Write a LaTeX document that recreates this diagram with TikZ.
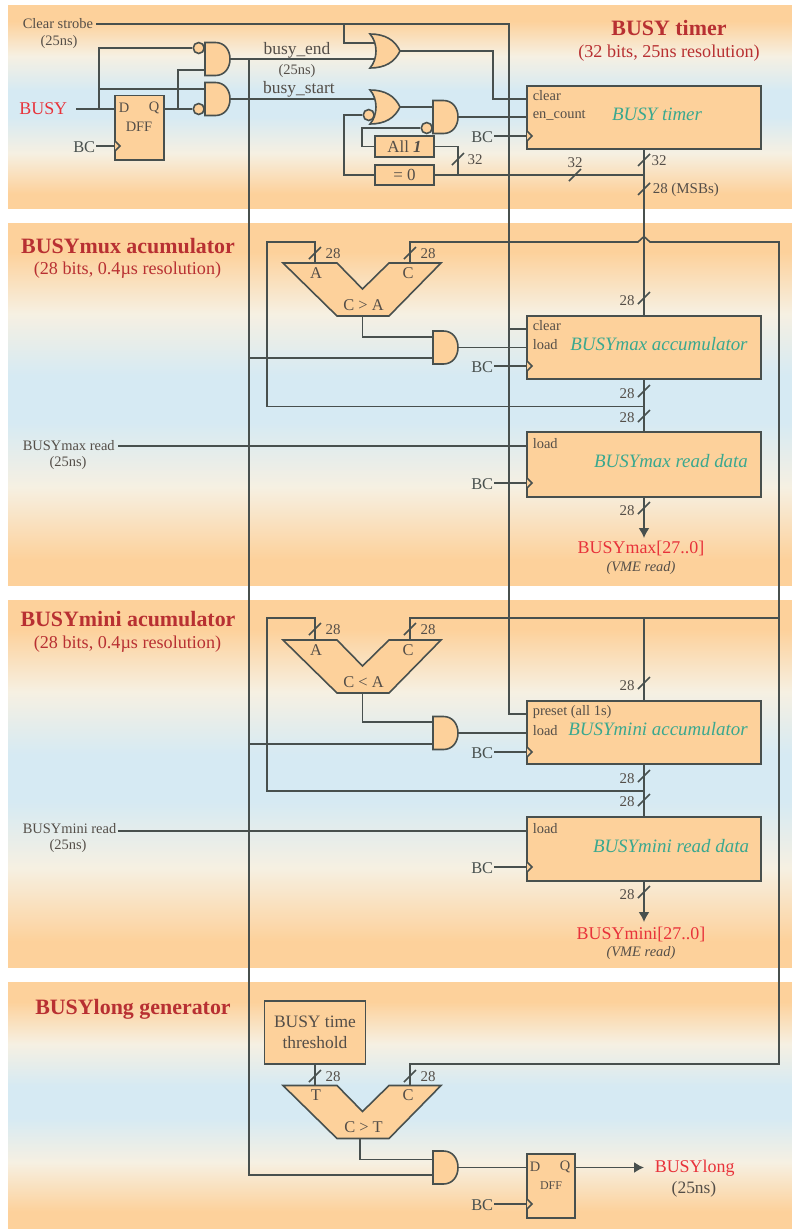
\documentclass[tikz,border=0pt]{standalone}
\usepackage{fontspec}
\usetikzlibrary{arrows.meta}
\setmainfont{Liberation Serif}
\definecolor{bandorange}{RGB}{253,209,155}
\definecolor{bandcream}{RGB}{246,240,226}
\definecolor{bandblue}{RGB}{214,234,243}
\definecolor{wirec}{RGB}{72,80,78}
\definecolor{textc}{RGB}{84,78,72}
\definecolor{redc}{RGB}{232,50,58}
\definecolor{titlec}{RGB}{184,48,50}
\definecolor{tealc}{RGB}{58,168,143}
\pgfdeclareverticalshading{bandshade}{100bp}{color(0bp)=(bandorange); color(28.5bp)=(bandorange); color(38.5bp)=(bandcream); color(47.5bp)=(bandblue); color(54bp)=(bandblue); color(62.5bp)=(bandcream); color(71bp)=(bandorange); color(100bp)=(bandorange)}
\tikzset{
    block/.style={draw,fill=bandorange,text=textc,inner sep=0},
    bubble/.style={circle,draw,fill=bandorange,inner sep=0,minimum size=11,anchor=east},
    pinlabel/.style={textc,anchor=west,inner sep=0,font=\fontsize{14.5}{16}\selectfont},
    bitlabel/.style={textc,inner sep=0,font=\fontsize{15}{17}\selectfont},
    textlabel/.style={textc,inner sep=0,font=\fontsize{16.5}{19}\selectfont},
    redlabel/.style={redc,inner sep=0,font=\fontsize{18}{20}\selectfont},
    bandtitle/.style={titlec,inner sep=0,font=\bfseries\fontsize{22}{24}\selectfont},
    bandnote/.style={titlec,inner sep=0,font=\fontsize{18.2}{20}\selectfont},
    blockname/.style={tealc,inner sep=0,font=\itshape\fontsize{19}{21}\selectfont},
    pics/andgate/.style 2 args={code={
        \draw[fill=bandorange] (-12.5,-16.5) -- (-2,-16.5) .. controls (7,-16.5) and (12.5,-9) .. (12.5,0) .. controls (12.5,9) and (7,16.5) .. (-2,16.5) -- (-12.5,16.5) -- cycle;
        \coordinate (-in1) at (-12.5,-#1);
        \coordinate (-in2) at (-12.5,#2);
        \coordinate (-out) at (12.5,0);
    }},
    pics/orgate/.style={code={
        \draw[fill=bandorange] (-15,-17) .. controls (0,-17) and (10,-11) .. (15,0) .. controls (10,11) and (0,17) .. (-15,17) .. controls (-7,8) and (-7,-8) .. cycle;
        \coordinate (-in1) at (-10,-8);
        \coordinate (-in2) at (-10,8);
        \coordinate (-out) at (15,0);
    }},
    pics/comparator/.style n args={3}{code={
        \draw[fill=bandorange] (-79.5,0) -- (-25.5,0) -- (0,26) -- (26.5,0) -- (78.5,0) -- (26.5,53) -- (-25.5,53) -- cycle;
        \coordinate (-a) at (-47.5,0);
        \coordinate (-c) at (47.5,0);
        \coordinate (-o) at (0,53);
        \node[textlabel] (-alab) at (-46.5,10) {#1};
        \node[textlabel] (-clab) at (45.5,10) {#2};
        \node[textlabel] (-op) at (1,42) {#3};
    }}
}
\begin{document}
\begin{tikzpicture}[x=1bp,y=-1bp,line width=1.6pt,wirec]
    \useasboundingbox (0,0) rectangle (792,1229);
    \foreach \t/\b in {5/208,223/585,600/967,982/1229}
        \shade[shading=bandshade] (8,\t) rectangle (792,\b);

    \foreach \n/\y/\h in {tm/117.5/63,mx/347.5/63,mr/464.5/65,nx/732.5/63,nr/849/64}
        \node[block,minimum width=234bp,minimum height=\h bp] (\n) at (644,\y) {};
    \node[block,minimum width=49bp,minimum height=64.5bp] (dff) at (139.5,127.8) {};
    \node[block,minimum width=48bp,minimum height=64bp] (dl) at (551,1186) {};
    \node[block,font=\fontsize{17}{19}\selectfont,minimum width=59bp,minimum height=21bp] (all) at (404.5,146.5) {All \textbf{\textit{1}}};
    \node[block,font=\fontsize{17}{19}\selectfont,minimum width=59bp,minimum height=20bp] (eq) at (404.5,175) {= 0};
    \node[block,align=center,font=\fontsize{17.5}{21}\selectfont,minimum width=101bp,minimum height=63bp] (th) at (315,1032.5) {BUSY time\\threshold};

    \pic (and1) at (217.5,59) {andgate={11}{11}};
    \pic (and2) at (217.5,99) {andgate={10}{10}};
    \pic (and3) at (445.5,117) {andgate={10}{11}};
    \pic (ax) at (445.5,347.5) {andgate={10.5}{10.5}};
    \pic (an) at (445.5,733) {andgate={11}{11}};
    \pic (al) at (445.5,1167.5) {andgate={8}{7.5}};
    \pic (or1) at (385,51) {orgate};
    \pic (or2) at (385,107) {orgate};
    \node[bubble] (bub1) at (and1-in1) {};
    \node[bubble] (bub2) at (and2-in2) {};
    \node[bubble] (bub3) at (and3-in2) {};
    \node[bubble] (bub4) at (or2-in2) {};

    \pic (cx) at (362.5,263) {comparator={A}{C}{C > A}};
    \pic (cn) at (362.5,640) {comparator={A}{C}{C < A}};
    \pic (cl) at (362.5,1085.5) {comparator={T}{C}{C > T}};

    \coordinate (clrs) at (96,24);
    \coordinate (clrtap) at (344,24);
    \coordinate (clrbus) at (509,24);
    \coordinate (clrjog) at (493,99);
    \coordinate (tmclr) at (527,99);
    \coordinate (mxclr) at (527,329);
    \coordinate (nxpre) at (527,714);
    \coordinate (busyin) at (76,109);
    \coordinate (dffd) at (115,109);
    \coordinate (dffq) at (164,109);
    \coordinate (tap) at (99,109);
    \coordinate (qtap) at (178,109);
    \coordinate (endtap) at (249,59);
    \coordinate (eqjog) at (344,175);
    \coordinate (alljog) at (362,146.5);
    \coordinate (alljoin) at (458,175);
    \coordinate (tmbus) at (644,175);
    \coordinate (loopa) at (267,242);
    \coordinate (loopb) at (267,406.5);
    \coordinate (loopc) at (644,406.5);
    \coordinate (hopin) at (638,242);
    \coordinate (hoptop) at (644,236.5);
    \coordinate (hopout) at (650,242);
    \coordinate (rbus) at (779,242);
    \coordinate (rbend) at (779,1064);
    \coordinate (rtap) at (779,618);
    \coordinate (mbus) at (644,618);
    \coordinate (mloopa) at (267,618);
    \coordinate (mloopb) at (267,791);
    \coordinate (mloopc) at (644,791);
    \coordinate (mrin) at (118,446);
    \coordinate (nrin) at (118,831);
    \coordinate (mrload) at (527,446);
    \coordinate (nrload) at (527,831);
    \coordinate (mxout) at (644,538);
    \coordinate (nxout) at (644,922);
    \coordinate (clout) at (360,1138.5);
    \coordinate (dld) at (527,1167.5);
    \coordinate (dlq) at (575,1167.5);
    \coordinate (dlout) at (644,1167.5);

    \draw (clrs) -- (clrbus) |- (nxpre);
    \draw (clrtap) |- (or1-in1);
    \draw (or1-out) -| (clrjog) -- (tmclr);
    \draw (clrbus |- mxclr) -- (mxclr);
    \draw (busyin) -- (dffd);
    \draw (tap) |- (bub1.west);
    \draw (tap |- and2-in1) -- (and2-in1);
    \draw (dffq) -- (bub2.west);
    \draw (qtap) |- (and1-in2);
    \draw (and1-out) -- (or1-in2);
    \draw (and2-out) -- (or2-in1);
    \draw (or2-out) -- (and3-in1);
    \draw (bub4.west) -| (eqjog) -- (eq.west);
    \draw (bub3.west) -| (alljog) -- (all.west);
    \draw (all.east) -| (alljoin);
    \draw (eq.east) -- (tmbus);
    \draw (and3-out) -- (and3-out -| tm.west);
    \draw (tm.south) -- (mx.north);
    \draw (endtap) |- (al-in2);
    \draw (endtap |- ax-in2) -- (ax-in2);
    \draw (endtap |- an-in2) -- (an-in2);
    \draw (cx-a) |- (loopa) -- (loopb) -- (loopc);
    \draw (cx-c) |- (hopin) -- (hoptop) -- (hopout) -- (rbus) -- (rbend) -| (cl-c);
    \draw (cx-o) |- (ax-in1);
    \draw (ax-out) -- (ax-out -| mx.west);
    \draw (mx.south) -- (mr.north);
    \draw (mrin) -- (mrload);
    \draw (cn-a) |- (mloopa) -- (mloopb) -- (mloopc);
    \draw (cn-c) |- (rtap);
    \draw (mbus) -- (nx.north);
    \draw (cn-o) |- (an-in1);
    \draw (an-out) -- (an-out -| nx.west);
    \draw (nx.south) -- (nr.north);
    \draw (nrin) -- (nrload);
    \draw (th.south) -- (cl-a);
    \draw (clout) |- (al-in1);
    \draw (al-out) -- (dld);
    \draw[-{Latex[length=10pt,width=11pt]}] (mr.south) -- (mxout);
    \draw[-{Latex[length=10pt,width=11pt]}] (nr.south) -- (nxout);
    \draw[-{Latex[length=10pt,width=11pt]}] (dlq) -- (dlout);

    \foreach \n/\x/\y/\c in {a/96/146/115,b/494/136/527,c/494/366/527,d/494/483/527,e/494/752/527,f/494/867/527,g/494/1204/527}{
        \node[textlabel,wirec,anchor=east,yshift=-1.5pt] (bc\n) at (\x,\y) {BC};
        \coordinate (clk\n) at (\c,\y);
        \draw (clk\n -| bc\n.east) -- (clk\n);
        \draw[fill=bandorange] ([yshift=-5pt]clk\n) -- ([xshift=5pt]clk\n) -- ([yshift=5pt]clk\n);
    }

    \foreach \n/\x/\y/\lx/\ly/\t in {1/458/159/475/160/32,2/575/175/575/163/32,3/644/160/659/161/32,
        4/315/253/333/254/28,5/410/253/428/254/28,6/644/298/627/301/28,7/644/391/627/394/28,8/644/416/627/418/28,9/644/508/627/511/28,
        10/315/629/333/630/28,11/410/629/428/630/28,12/644/683/627/686/28,13/644/776/627/779/28,14/644/800/627/802/28,15/644/892/627/895/28,
        16/315/1076/333/1077/28,17/410/1076/428/1077/28}{
        \draw (\x-6,\y+6) -- (\x+6,\y-6);
        \node[bitlabel] (bit\n) at (\lx,\ly) {\t};
    }
    \draw (638,195) -- (650,183);
    \node[bitlabel,anchor=west] (msbs) at (652,190) {28 (MSBs)};

    \node[pinlabel] (clearlab) at (22,24) {Clear strobe};
    \node[pinlabel,anchor=center] (clearns) at (59,42) {(25ns)};
    \node[redlabel,anchor=east] (busy) at (68,109) {BUSY};
    \node[pinlabel,anchor=center] (dffdlab) at (124,108) {D};
    \node[pinlabel,anchor=center] (dffqlab) at (154,108) {Q};
    \node[pinlabel,anchor=center] (dffname) at (139,127) {DFF};
    \node[textlabel,font=\fontsize{17.5}{19}\selectfont] (endlab) at (297,50) {busy\_end};
    \node[pinlabel,anchor=center] (endns) at (297,71) {(25ns)};
    \node[textlabel,font=\fontsize{17.5}{19}\selectfont] (startlab) at (299,89.5) {busy\_start};
    \node[pinlabel] (tmclrlab) at (532,96) {clear};
    \node[pinlabel] (tmenlab) at (532,115.5) {en\_count};
    \node[pinlabel] (mxclrlab) at (532,326) {clear};
    \node[pinlabel] (mxloadlab) at (532,345) {load};
    \node[pinlabel] (mrloadlab) at (532,444) {load};
    \node[pinlabel] (nxprelab) at (532,712.5) {preset (all 1s)};
    \node[pinlabel] (nxloadlab) at (532,731) {load};
    \node[pinlabel] (nrloadlab) at (532,829) {load};
    \node[blockname] (tmname) at (657,114) {BUSY timer};
    \node[blockname] (mxname) at (659,344) {BUSYmax accumulator};
    \node[blockname] (mrname) at (671,461) {BUSYmax read data};
    \node[blockname] (nxname) at (658,729) {BUSYmini accumulator};
    \node[blockname] (nrname) at (671,846) {BUSYmini read data};
    \node[bandtitle] (tmtitle) at (669,28) {BUSY timer};
    \node[bandnote] (tmnote) at (669,53.5) {(32 bits, 25ns resolution)};
    \node[bandtitle] (mxtitle) at (128,246) {BUSYmux acumulator};
    \node[bandnote] (mxnote) at (127.5,270) {(28 bits, 0.4µs resolution)};
    \node[bandtitle] (nxtitle) at (128,619) {BUSYmini acumulator};
    \node[bandnote] (nxnote) at (127.5,644) {(28 bits, 0.4µs resolution)};
    \node[bandtitle] (ltitle) at (133,1009) {BUSYlong generator};
    \node[pinlabel] (mrlab) at (22,446) {BUSYmax read};
    \node[pinlabel,anchor=center] (mrns) at (68,463) {(25ns)};
    \node[pinlabel] (nrlab) at (22,829) {BUSYmini read};
    \node[pinlabel,anchor=center] (nrns) at (68,846) {(25ns)};
    \node[redlabel] (mxbus) at (641,548) {BUSYmax[27..0]};
    \node[pinlabel,anchor=center,font=\itshape\fontsize{14.5}{16}\selectfont] (mxvme) at (641,568.5) {(VME read)};
    \node[redlabel] (nxbus) at (641,934) {BUSYmini[27..0]};
    \node[pinlabel,anchor=center,font=\itshape\fontsize{14.5}{16}\selectfont] (nxvme) at (641,953.5) {(VME read)};
    \node[pinlabel,anchor=center] (dldlab) at (535,1167) {D};
    \node[pinlabel,anchor=center] (dlqlab) at (565,1167) {Q};
    \node[pinlabel,anchor=center,font=\fontsize{12}{14}\selectfont] (dlname) at (551,1186) {DFF};
    \node[redlabel,anchor=west] (longlab) at (654,1168.5) {BUSYlong};
    \node[textlabel,font=\fontsize{17.5}{19}\selectfont] (longns) at (694,1189) {(25ns)};
\end{tikzpicture}
\end{document}
